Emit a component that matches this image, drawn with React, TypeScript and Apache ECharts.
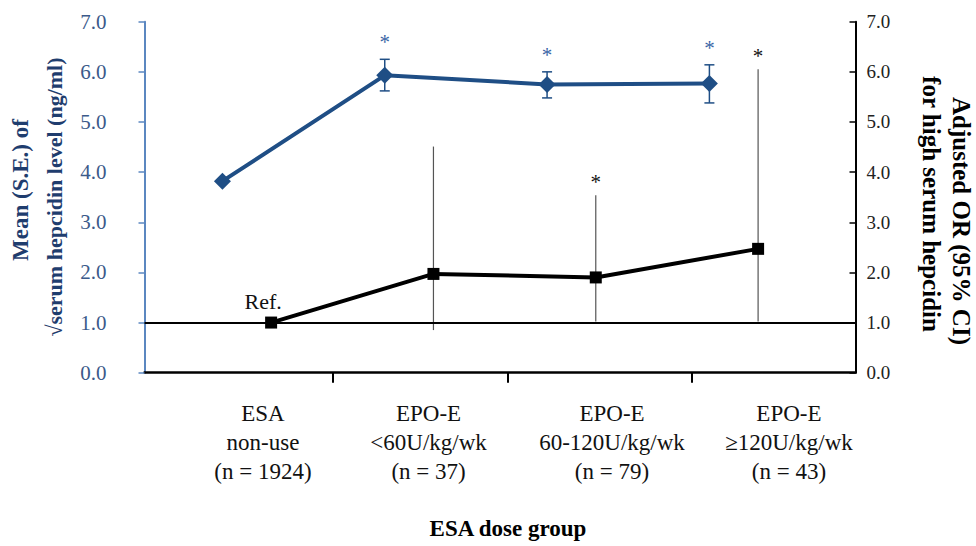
import React, { useEffect, useRef } from "react";
import * as echarts from "echarts";

// ---- data ----
const groupLabels = [
  "ESA\nnon-use\n(n = 1924)",
  "EPO-E\n<60U/kg/wk\n(n = 37)",
  "EPO-E\n60-120U/kg/wk\n(n = 79)",
  "EPO-E\n≥120U/kg/wk\n(n = 43)",
];
// mean (S.E.) of sqrt serum hepcidin (left axis)
const hepcidinMean = [3.82, 5.93, 5.75, 5.77];
const hepcidinLow = [null, 5.62, 5.48, 5.38];
const hepcidinHigh = [null, 6.25, 6.0, 6.14];
const hepcidinSig = [false, true, true, true];
// adjusted OR (95% CI) (right axis)
const orValue = [1.0, 1.97, 1.9, 2.47];
const orLow = [null, 0.85, 1.02, 1.02];
const orHigh = [null, 4.51, 3.54, 6.05];
const orSig = [false, false, true, true];
const refLabel = "Ref.";

// ---- layout (x axis in group units) ----
const X_MIN = -0.48;
const X_MAX = 3.9;
const OR_SHIFT = 0.3;
const TICK_POS = [0.68, 1.76, 2.89];
const LABEL_POS = [0.25, 1.27, 2.4, 3.49];

const SERIF = "'Liberation Serif', 'Times New Roman', serif";
const BLUE = "#1f4e85";

function errorSeries(
  xs: number[],
  lows: (number | null)[],
  highs: (number | null)[],
  sig: boolean[],
  yAxisIndex: number,
  color: string,
  width: number,
  cap: number,
  starColor: string,
  starGap: number
) {
  const data: number[][] = [];
  xs.forEach((x, i) => {
    const lo = lows[i];
    const hi = highs[i];
    if (lo != null && hi != null) data.push([x, lo, hi, sig[i] ? 1 : 0]);
  });
  return {
    type: "custom",
    yAxisIndex,
    z: 1,
    silent: true,
    encode: { x: 0, y: [1, 2] },
    data,
    renderItem: (params: any, api: any) => {
      const x = api.value(0);
      const pLo = api.coord([x, api.value(1)]);
      const pHi = api.coord([x, api.value(2)]);
      const style = { stroke: color, lineWidth: width };
      const children: any[] = [
        { type: "line", shape: { x1: pLo[0], y1: pLo[1], x2: pHi[0], y2: pHi[1] }, style },
      ];
      if (cap > 0) {
        children.push({ type: "line", shape: { x1: pLo[0] - cap / 2, y1: pLo[1], x2: pLo[0] + cap / 2, y2: pLo[1] }, style });
        children.push({ type: "line", shape: { x1: pHi[0] - cap / 2, y1: pHi[1], x2: pHi[0] + cap / 2, y2: pHi[1] }, style });
      }
      if (api.value(3) === 1) {
        children.push({
          type: "text",
          x: pHi[0],
          y: pHi[1] - starGap,
          style: {
            text: "*",
            fill: starColor,
            fontSize: 21,
            fontFamily: SERIF,
            align: "center",
            verticalAlign: "middle",
          },
        });
      }
      return { type: "group", children };
    },
  };
}

export default function App() {
  const ref = useRef<HTMLDivElement>(null);

  useEffect(() => {
    document.body.style.margin = "0";
    if (!ref.current) return;
    const chart = echarts.init(ref.current, undefined, { renderer: "svg" });

    const blueX = hepcidinMean.map((_, i) => i);
    const orX = orValue.map((_, i) => i + OR_SHIFT);

    const option: any = {
      animation: false,
      backgroundColor: "#ffffff",
      grid: { left: 144.5, right: 120.5, top: 21.7, bottom: 173.3 },
      xAxis: {
        type: "value",
        min: X_MIN,
        max: X_MAX,
        axisLine: { show: true, onZero: false, lineStyle: { color: "#000", width: 2.5 } },
        axisTick: { show: true, customValues: TICK_POS, length: 10, lineStyle: { color: "#000", width: 2 } },
        axisLabel: {
          customValues: LABEL_POS,
          formatter: (v: number) => {
            let best = 0;
            LABEL_POS.forEach((p, i) => {
              if (Math.abs(p - v) < Math.abs(LABEL_POS[best] - v)) best = i;
            });
            return groupLabels[best];
          },
          fontFamily: SERIF,
          fontSize: 23,
          lineHeight: 29,
          color: "#111",
          margin: 26,
        },
        splitLine: { show: false },
      },
      yAxis: [
        {
          type: "value",
          position: "left",
          min: 0,
          max: 7,
          interval: 1,
          axisLine: { show: true, onZero: false, lineStyle: { color: "#5b87c0", width: 2 } },
          axisTick: { show: true, length: 6, lineStyle: { color: "#5b87c0", width: 1.5 } },
          axisLabel: {
            formatter: (v: number) => v.toFixed(1),
            color: "#3b5a8a",
            fontSize: 21,
            fontFamily: SERIF,
            margin: 38,
          },
          splitLine: { show: false },
        },
        {
          type: "value",
          position: "right",
          min: 0,
          max: 7,
          interval: 1,
          axisLine: { show: true, onZero: false, lineStyle: { color: "#000", width: 2 } },
          axisTick: { show: true, inside: true, length: 6, lineStyle: { color: "#000", width: 1.5 } },
          axisLabel: {
            formatter: (v: number) => v.toFixed(1),
            color: "#222",
            fontSize: 19,
            fontFamily: SERIF,
            margin: 11,
          },
          splitLine: { show: false },
        },
      ],
      graphic: [
        {
          type: "text",
          x: 20,
          y: 190,
          rotation: Math.PI / 2,
          style: { text: "Mean (S.E.) of", fontSize: 23, fontWeight: "bold", fontFamily: SERIF, fill: "#1f3d6e", align: "center", verticalAlign: "middle" },
        },
        {
          type: "text",
          x: 54,
          y: 197,
          rotation: Math.PI / 2,
          style: { text: "√serum hepcidin level (ng/ml)", fontSize: 22, fontWeight: "bold", fontFamily: SERIF, fill: "#1f3d6e", align: "center", verticalAlign: "middle" },
        },
        {
          type: "text",
          x: 961,
          y: 221,
          rotation: -Math.PI / 2,
          style: { text: "Adjusted OR (95% CI)", fontSize: 25, fontWeight: "bold", fontFamily: SERIF, fill: "#000", align: "center", verticalAlign: "middle" },
        },
        {
          type: "text",
          x: 931,
          y: 204,
          rotation: -Math.PI / 2,
          style: { text: "for high serum hepcidin", fontSize: 25, fontWeight: "bold", fontFamily: SERIF, fill: "#000", align: "center", verticalAlign: "middle" },
        },
        {
          type: "text",
          x: 508,
          y: 528,
          style: { text: "ESA dose group", fontSize: 23, fontWeight: "bold", fontFamily: SERIF, fill: "#000", align: "center", verticalAlign: "middle" },
        },
      ],
      series: [
        errorSeries(blueX, hepcidinLow, hepcidinHigh, hepcidinSig, 0, BLUE, 1.5, 10, "#3a66a6", 17),
        errorSeries(orX, orLow, orHigh, orSig, 1, "#555", 1.2, 0, "#111", 13),
        {
          type: "line",
          yAxisIndex: 0,
          z: 3,
          data: hepcidinMean.map((v, i) => [blueX[i], v]),
          symbol: "diamond",
          symbolSize: 17,
          lineStyle: { color: BLUE, width: 4 },
          itemStyle: { color: BLUE },
        },
        {
          type: "line",
          yAxisIndex: 1,
          z: 3,
          data: orValue.map((v, i) =>
            i === 0
              ? {
                  value: [orX[i], v],
                  label: {
                    show: true,
                    formatter: refLabel,
                    position: "top",
                    offset: [-8, 1],
                    fontSize: 22,
                    fontFamily: SERIF,
                    color: "#111",
                  },
                }
              : [orX[i], v]
          ),
          symbol: "rect",
          symbolSize: 12,
          lineStyle: { color: "#000", width: 4 },
          itemStyle: { color: "#000" },
          markLine: {
            silent: true,
            symbol: "none",
            label: { show: false },
            lineStyle: { color: "#000", width: 2, type: "solid" },
            data: [{ yAxis: 1 }],
          },
        },
      ],
    };

    chart.setOption(option);
    return () => chart.dispose();
  }, []);

  return <div ref={ref} style={{ width: 976, height: 546 }} />;
}
